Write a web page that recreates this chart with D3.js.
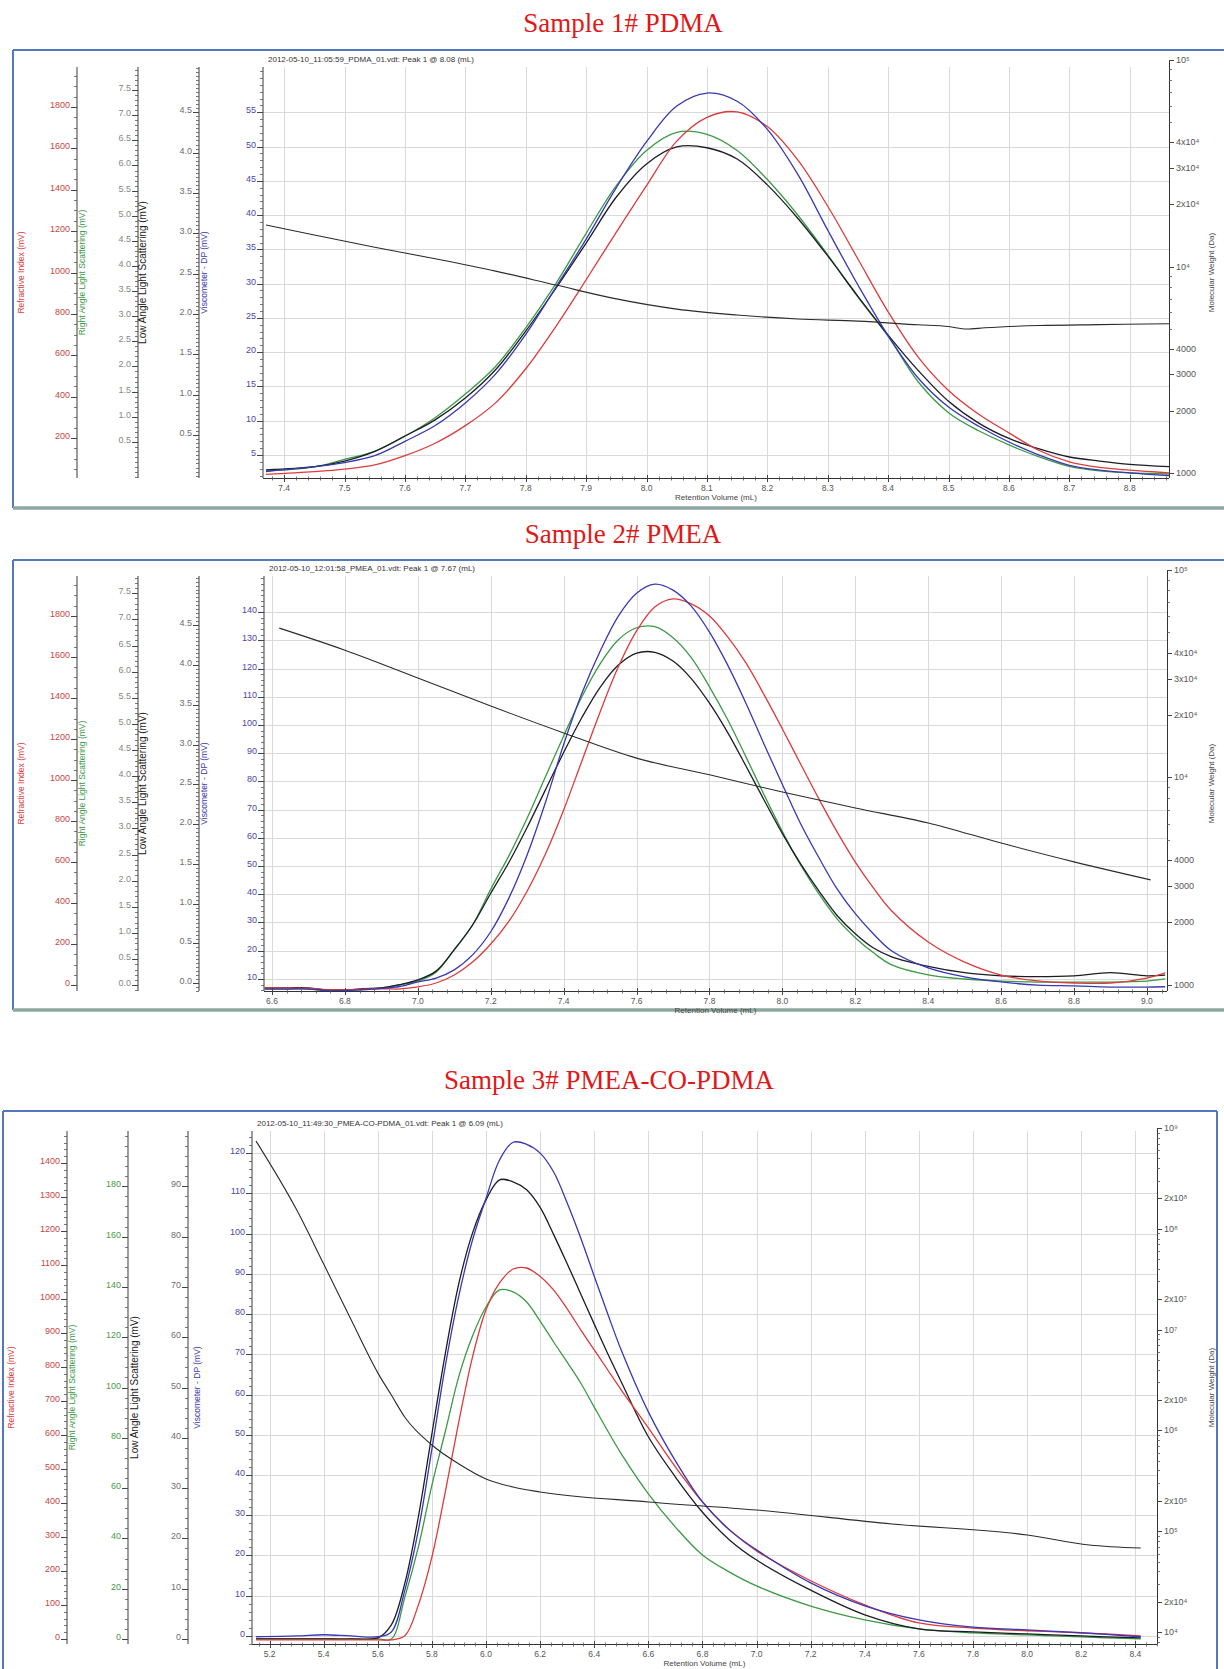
<!DOCTYPE html>
<html>
<head>
<meta charset="utf-8">
<script src="https://cdn.jsdelivr.net/npm/d3@7"></script>
<style>
  body { margin: 0; background: #fff; }
  svg { display: block; }
  text { font-family: "Liberation Sans", Arial, sans-serif; }
</style>
</head>
<body>
<svg id="chart" width="1224" height="1669"></svg>
<script>
// ---------------- data ----------------
const sampleTitles = ["Sample 1#  PDMA", "Sample 2#  PMEA", "Sample 3#  PMEA-CO-PDMA"];
const runHeaders = [
  "2012-05-10_11:05:59_PDMA_01.vdt: Peak 1 @ 8.08 (mL)",
  "2012-05-10_12:01:58_PMEA_01.vdt: Peak 1 @ 7.67 (mL)",
  "2012-05-10_11:49:30_PMEA-CO-PDMA_01.vdt: Peak 1 @ 6.09 (mL)"
];
const detectorNames = ["Refractive Index (mV)", "Right Angle Light Scattering (mV)",
                       "Low Angle Light Scattering (mV)", "Viscometer - DP (mV)"];

// Sample 1 (PDMA): retention volume (mL) and detector signals
const vol1 = [7.37, 7.45, 7.50, 7.55, 7.60, 7.65, 7.70, 7.75, 7.80, 7.85, 7.90, 7.95, 8.00, 8.05, 8.10,
              8.15, 8.20, 8.25, 8.30, 8.35, 8.40, 8.45, 8.50, 8.55, 8.60, 8.65, 8.70, 8.75, 8.80, 8.865];
const ri1   = [25, 38, 50, 70, 115, 175, 260, 370, 535, 740, 965, 1195, 1420, 1635, 1750,
               1776, 1705, 1545, 1320, 1065, 810, 590, 430, 315, 225, 140, 85, 58, 45, 32];
const rals1 = [-0.08, 0.0, 0.15, 0.31, 0.61, 0.98, 1.45, 2.0, 2.77, 3.65, 4.65, 5.6, 6.3, 6.66, 6.62,
               6.3, 5.72, 5.02, 4.22, 3.38, 2.60, 1.69, 1.08, 0.72, 0.44, 0.20, 0.01, -0.08, -0.12, -0.14];
const lals1 = [0.07, 0.11, 0.18, 0.30, 0.49, 0.69, 0.96, 1.31, 1.79, 2.32, 2.88, 3.45, 3.86, 4.07, 4.06,
               3.92, 3.60, 3.19, 2.72, 2.22, 1.74, 1.30, 0.92, 0.65, 0.46, 0.33, 0.23, 0.18, 0.14, 0.11];
const dp1   = [2.6, 3.3, 3.9, 4.9, 7.0, 9.3, 12.6, 16.8, 22.6, 29.5, 36.5, 44.0, 50.7, 55.9, 57.8,
               56.6, 52.5, 46.0, 37.8, 29.8, 22.4, 16.2, 12.0, 9.2, 6.9, 5.0, 3.5, 2.8, 2.4, 2.0];
const mwVol1 = [7.37, 7.45, 7.55, 7.65, 7.75, 7.85, 7.95, 8.05, 8.15, 8.25, 8.35, 8.45, 8.50, 8.53, 8.56, 8.65, 8.75, 8.865];
const mw1    = [15900, 14200, 12400, 10900, 9500, 8130, 6970, 6220, 5820, 5570, 5440, 5220, 5120, 4980, 5050, 5180, 5230, 5280];

// Sample 2 (PMEA)
const vol2 = [6.58, 6.65, 6.70, 6.75, 6.80, 6.85, 6.90, 6.95,
              7.00, 7.05, 7.10, 7.15, 7.20, 7.25, 7.30, 7.35, 7.40, 7.45, 7.50, 7.55, 7.60, 7.65, 7.70, 7.75, 7.80, 7.85, 7.90, 7.95,
              8.00, 8.05, 8.10, 8.15, 8.20, 8.25, 8.30, 8.40, 8.50, 8.60, 8.70, 8.80, 8.90, 9.00, 9.05];
const ri2   = [-15, -15, -15, -22, -22, -20, -18, -19,
               -9, 10, 49, 112, 200, 312, 459, 639, 854, 1093, 1332, 1552, 1727, 1844, 1883, 1859, 1800, 1698, 1571, 1415,
               1249, 1078, 908, 747, 600, 473, 361, 210, 112, 49, 20, 10, 10, 34, 59];
const rals2 = [-0.07, -0.07, -0.07, -0.10, -0.10, -0.08, -0.05, 0.005,
               0.08, 0.25, 0.68, 1.15, 1.84, 2.48, 3.20, 3.99, 4.77, 5.52, 6.15, 6.61, 6.84, 6.86, 6.65, 6.27, 5.71, 5.08, 4.37, 3.64,
               2.94, 2.30, 1.75, 1.27, 0.91, 0.62, 0.39, 0.20, 0.12, 0.08, 0.06, 0.06, 0.06, 0.08, 0.12];
const lals2 = [-0.06, -0.06, -0.06, -0.09, -0.09, -0.07, -0.06, -0.02,
               0.04, 0.15, 0.42, 0.73, 1.13, 1.52, 1.96, 2.43, 2.90, 3.34, 3.72, 4.00, 4.15, 4.16, 4.05, 3.83, 3.52, 3.15, 2.73, 2.30,
               1.88, 1.50, 1.16, 0.85, 0.62, 0.44, 0.33, 0.21, 0.13, 0.09, 0.08, 0.09, 0.13, 0.09, 0.10];
const dp2   = [6.4, 6.4, 6.4, 5.9, 5.9, 6.1, 6.6, 7.3,
               8.9, 10.3, 13.2, 18.5, 26.7, 38.7, 54.0, 72.5, 93.1, 111.2, 126.1, 138.6, 146.7, 149.9, 147.8, 142.1, 132.9, 121.2, 107.7, 93.1,
               78.9, 65.0, 53.0, 41.9, 33.1, 25.9, 19.9, 13.9, 10.7, 8.9, 7.8, 7.5, 7.1, 7.1, 7.2];
const mwVol2 = [6.62, 6.80, 7.00, 7.20, 7.40, 7.60, 7.80, 8.00, 8.20, 8.40, 8.60, 8.80, 9.01];
const mw2    = [52500, 41100, 30200, 22100, 16400, 12400, 10300, 8510, 7130, 6040, 4830, 3920, 3210];

// Sample 3 (PMEA-CO-PDMA)
const vol3 = [5.15, 5.30, 5.40, 5.50, 5.60, 5.65, 5.70, 5.75, 5.80, 5.85, 5.90, 5.95, 6.00, 6.05, 6.10,
              6.15, 6.20, 6.25, 6.30, 6.35, 6.40, 6.45, 6.50, 6.60, 6.70, 6.80, 6.90, 7.00, 7.20, 7.40, 7.60, 7.80, 8.00, 8.20, 8.42];
const ri3   = [-3, -3, -3, -3, -3, -3, 9, 100, 241, 435, 641, 829, 968, 1047, 1088,
               1091, 1066, 1026, 971, 909, 850, 791, 732, 621, 506, 403, 321, 259, 171, 100, 47, 32, 24, 18, 9];
const rals3 = [0, 0, 0, 0, 0, 0, 16.7, 36.6, 61.2, 82.7, 104.6, 120.5, 132.0, 138.8, 138.0,
               134.0, 126.4, 118.1, 110.1, 101.8, 92.2, 82.7, 73.6, 57.7, 44.5, 33.4, 26.6, 21.1, 13.1, 7.6, 4.0, 2.4, 1.6, 0.8, 0];
const lals3 = [0, 0, 0, 0, 0.2, 2.8, 11.1, 24.3, 40.8, 56.9, 70.8, 80.7, 87.3, 91.3, 90.9,
               89.3, 85.8, 80.4, 74.6, 68.6, 62.6, 56.7, 51.1, 40.2, 32.2, 25.2, 19.7, 15.7, 9.7, 4.8, 2.0, 1.4, 1.0, 0.6, 0.2];
const dp3   = [-0.2, 0.0, 0.3, 0.0, -0.2, 1.0, 11.4, 26.3, 46.5, 67.3, 84.7, 98.4, 108.8, 118.3, 122.7,
               122.2, 120.0, 115.3, 107.6, 98.9, 89.4, 80.0, 71.0, 55.7, 43.5, 33.3, 26.3, 21.4, 13.2, 7.5, 4.0, 2.2, 1.5, 0.8, -0.2];
const mwVol3 = [5.15, 5.30, 5.40, 5.50, 5.60, 5.65, 5.70, 5.80, 5.90, 6.00, 6.10, 6.20, 6.60, 7.00, 7.50, 8.00, 8.23, 8.42];
const mw3    = [7.4e8, 1.54e8, 4.47e7, 1.27e7, 3.72e6, 2.24e6, 1.35e6, 716000, 464000, 330000, 274000, 245000,
                195000, 162000, 118000, 91600, 73000, 68100];

// Tick values
const xTicks1    = [7.4, 7.5, 7.6, 7.7, 7.8, 7.9, 8.0, 8.1, 8.2, 8.3, 8.4, 8.5, 8.6, 8.7, 8.8];
const riTicks1   = [200, 400, 600, 800, 1000, 1200, 1400, 1600, 1800];
const ralsTicks1 = [0.5, 1.0, 1.5, 2.0, 2.5, 3.0, 3.5, 4.0, 4.5, 5.0, 5.5, 6.0, 6.5, 7.0, 7.5];
const lalsTicks1 = [0.5, 1.0, 1.5, 2.0, 2.5, 3.0, 3.5, 4.0, 4.5];
const dpTicks1   = [5, 10, 15, 20, 25, 30, 35, 40, 45, 50, 55];
const mwTicks1   = [100000, 40000, 30000, 20000, 10000, 4000, 3000, 2000, 1000];

const xTicks2    = [6.6, 6.8, 7.0, 7.2, 7.4, 7.6, 7.8, 8.0, 8.2, 8.4, 8.6, 8.8, 9.0];
const riTicks2   = [0, 200, 400, 600, 800, 1000, 1200, 1400, 1600, 1800];
const ralsTicks2 = [0.0, 0.5, 1.0, 1.5, 2.0, 2.5, 3.0, 3.5, 4.0, 4.5, 5.0, 5.5, 6.0, 6.5, 7.0, 7.5];
const lalsTicks2 = [0.0, 0.5, 1.0, 1.5, 2.0, 2.5, 3.0, 3.5, 4.0, 4.5];
const dpTicks2   = [10, 20, 30, 40, 50, 60, 70, 80, 90, 100, 110, 120, 130, 140];
const mwTicks2   = [100000, 40000, 30000, 20000, 10000, 4000, 3000, 2000, 1000];

const xTicks3    = [5.2, 5.4, 5.6, 5.8, 6.0, 6.2, 6.4, 6.6, 6.8, 7.0, 7.2, 7.4, 7.6, 7.8, 8.0, 8.2, 8.4];
const riTicks3   = [0, 100, 200, 300, 400, 500, 600, 700, 800, 900, 1000, 1100, 1200, 1300, 1400];
const ralsTicks3 = [0, 20, 40, 60, 80, 100, 120, 140, 160, 180];
const lalsTicks3 = [0, 10, 20, 30, 40, 50, 60, 70, 80, 90];
const dpTicks3   = [0, 10, 20, 30, 40, 50, 60, 70, 80, 90, 100, 110, 120];
const mwTicks3   = [1e9, 2e8, 1e8, 2e7, 1e7, 2e6, 1e6, 2e5, 1e5, 2e4, 1e4];

// ---------------- layout / style ----------------
const COLORS = { ri: "#dd3b3b", rals: "#3b9a45", lals: "#1c1c26", dp: "#3838b4", mw: "#2b2b2b" };
const LABEL_COLORS = { ri: "#c84646", ralsGray: "#7f8a7f", ralsGreen: "#4a9a4a", lals: "#6e6e6e", dp: "#4848a8" };

const panels = [
  {
    title: sampleTitles[0], titleX: 623, titleY: 32, header: runHeaders[0],
    border: { x0: 13, y0: 50, x1: 1240, y1: 508, right: false },
    plot: { x0: 263, x1: 1169, y0: 67, y1: 478 },
    axisX: { ri: 77, rals: 138, lals: 199 },
    nameX: { ri: 22, rals: 83, lals: 143, dp: 205 },
    dom: { x: [7.365, 8.865], ri: [7, 1993], rals: [-0.22, 7.96], lals: [-0.03, 5.06], dp: [1.65, 61.6], mw: [946, 92500] },
    ticks: { x: xTicks1, ri: riTicks1, rals: ralsTicks1, lals: lalsTicks1, dp: dpTicks1, mw: mwTicks1 },
    minor: { x: 0.02, ri: 50, rals: 0.1, lals: 0.05, dp: 1 },
    fmt: { x: ".1f", ri: "d", rals: ".1f", lals: ".1f", dp: "d" },
    ralsLabel: LABEL_COLORS.ralsGray,
    series: { vol: vol1, ri: ri1, rals: rals1, lals: lals1, dp: dp1, mwVol: mwVol1, mw: mw1 }
  },
  {
    title: sampleTitles[1], titleX: 623, titleY: 543, header: runHeaders[1],
    border: { x0: 13, y0: 560, x1: 1240, y1: 1010, right: false },
    plot: { x0: 264, x1: 1167, y0: 576, y1: 991 },
    axisX: { ri: 77, rals: 138, lals: 199 },
    nameX: { ri: 22, rals: 83, lals: 143, dp: 205 },
    dom: { x: [6.578, 9.055], ri: [-29, 1995], rals: [-0.11, 7.83], lals: [-0.1, 5.12], dp: [5.7, 152.8], mw: [935, 93600] },
    ticks: { x: xTicks2, ri: riTicks2, rals: ralsTicks2, lals: lalsTicks2, dp: dpTicks2, mw: mwTicks2 },
    minor: { x: 0.04, ri: 50, rals: 0.1, lals: 0.05, dp: 2 },
    fmt: { x: ".1f", ri: "d", rals: ".1f", lals: ".1f", dp: "d" },
    ralsLabel: LABEL_COLORS.ralsGray,
    series: { vol: vol2, ri: ri2, rals: rals2, lals: lals2, dp: dp2, mwVol: mwVol2, mw: mw2 }
  },
  {
    title: sampleTitles[2], titleX: 609, titleY: 1089, header: runHeaders[2],
    border: { x0: 3, y0: 1111, x1: 1217, y1: 1700, right: true },
    plot: { x0: 252, x1: 1157, y0: 1131, y1: 1644 },
    axisX: { ri: 67, rals: 128, lals: 188 },
    nameX: { ri: 12, rals: 73, lals: 135, dp: 198 },
    dom: { x: [5.135, 8.48], ri: [-15, 1494], rals: [-2, 202], lals: [-1, 101], dp: [-2, 125.5], mw: [7600, 9.33e8] },
    ticks: { x: xTicks3, ri: riTicks3, rals: ralsTicks3, lals: lalsTicks3, dp: dpTicks3, mw: mwTicks3 },
    minor: { x: 0.04, ri: 20, rals: 4, lals: 2, dp: 2 },
    fmt: { x: ".1f", ri: "d", rals: "d", lals: "d", dp: "d" },
    ralsLabel: LABEL_COLORS.ralsGreen,
    series: { vol: vol3, ri: ri3, rals: rals3, lals: lals3, dp: dp3, mwVol: mwVol3, mw: mw3 }
  }
];

const svg = d3.select("#chart");
const SUP = { "0": "\u2070", "1": "\u00b9", "2": "\u00b2", "3": "\u00b3", "4": "\u2074", "5": "\u2075",
              "6": "\u2076", "7": "\u2077", "8": "\u2078", "9": "\u2079" };

function mwLabel(v) {
  if (v < 10000) return String(v);
  const e = Math.floor(Math.log10(v) + 1e-9);
  const m = Math.round(v / Math.pow(10, e));
  const exp = String(e).split("").map(c => SUP[c]).join("");
  return (m === 1 ? "10" : m + "x10") + exp;
}

function steps(d0, d1, step) {
  const out = [];
  const start = Math.ceil(d0 / step - 1e-9);
  const end = Math.floor(d1 / step + 1e-9);
  for (let k = start; k <= end; k++) out.push(+(k * step).toFixed(6));
  return out;
}

function leftAxis(g, scale, xPos, ticks, minorStep, fmt, labelColor, plot) {
  const a = g.append("g");
  a.append("line").attr("x1", xPos).attr("x2", xPos).attr("y1", plot.y0).attr("y2", plot.y1)
    .attr("stroke", "#3a3a3a").attr("stroke-width", 1);
  const dom = scale.domain();
  a.selectAll(null).data(steps(dom[0], dom[1], minorStep)).join("line")
    .attr("x1", xPos - 3).attr("x2", xPos)
    .attr("y1", d => Math.round(scale(d)) + 0.5).attr("y2", d => Math.round(scale(d)) + 0.5)
    .attr("stroke", "#555").attr("stroke-width", 0.8);
  a.selectAll(null).data(ticks).join("line")
    .attr("x1", xPos - 6).attr("x2", xPos)
    .attr("y1", d => Math.round(scale(d)) + 0.5).attr("y2", d => Math.round(scale(d)) + 0.5)
    .attr("stroke", "#444").attr("stroke-width", 1);
  const f = d3.format(fmt);
  a.selectAll(null).data(ticks).join("text")
    .attr("x", xPos - 7).attr("y", d => scale(d) + 1)
    .attr("text-anchor", "end").attr("font-size", 9).attr("fill", labelColor)
    .text(d => f(d));
}

function axisName(g, x, plot, text, color, size) {
  const cy = (plot.y0 + plot.y1) / 2;
  g.append("text").attr("transform", `translate(${x},${cy}) rotate(-90)`)
    .attr("text-anchor", "middle").attr("dominant-baseline", "middle")
    .attr("font-size", size).attr("fill", color).text(text);
}

const smooth = d3.curveCatmullRom.alpha(0.5);

panels.forEach((p, idx) => {
  const g = svg.append("g");
  const P = p.plot;

  // panel frame
  const b = p.border;
  g.append("line").attr("x1", b.x0).attr("x2", b.x0).attr("y1", b.y0).attr("y2", b.y1)
    .attr("stroke", "#5577c2").attr("stroke-width", 2);
  g.append("line").attr("x1", b.x0).attr("x2", b.x1).attr("y1", b.y0).attr("y2", b.y0)
    .attr("stroke", "#5577c2").attr("stroke-width", 2);
  if (b.right) {
    g.append("line").attr("x1", b.x1).attr("x2", b.x1).attr("y1", b.y0).attr("y2", b.y1)
      .attr("stroke", "#5577c2").attr("stroke-width", 2);
  }
  if (b.y1 < 1669) {
    g.append("line").attr("x1", b.x0).attr("x2", b.x1).attr("y1", b.y1).attr("y2", b.y1)
      .attr("stroke", "#8ea89f").attr("stroke-width", 3.5);
  }

  // sample title
  svg.append("text").attr("x", p.titleX).attr("y", p.titleY).attr("text-anchor", "middle")
    .style("font-family", "'Liberation Serif', 'Times New Roman', serif")
    .attr("font-size", 27).attr("fill", "#e01818").text(p.title);

  // scales
  const x = d3.scaleLinear().domain(p.dom.x).range([P.x0, P.x1]);
  const yRI = d3.scaleLinear().domain(p.dom.ri).range([P.y1, P.y0]);
  const yRALS = d3.scaleLinear().domain(p.dom.rals).range([P.y1, P.y0]);
  const yLALS = d3.scaleLinear().domain(p.dom.lals).range([P.y1, P.y0]);
  const yDP = d3.scaleLinear().domain(p.dom.dp).range([P.y1, P.y0]);
  const yMW = d3.scaleLog().domain(p.dom.mw).range([P.y1, P.y0]);

  // grid
  const grid = g.append("g").attr("stroke", "#d9d9d9").attr("stroke-width", 1);
  grid.selectAll(null).data(p.ticks.x).join("line")
    .attr("x1", d => Math.round(x(d)) + 0.5).attr("x2", d => Math.round(x(d)) + 0.5)
    .attr("y1", P.y0).attr("y2", P.y1);
  grid.selectAll(null).data(p.ticks.dp).join("line")
    .attr("x1", P.x0).attr("x2", P.x1)
    .attr("y1", d => Math.round(yDP(d)) + 0.5).attr("y2", d => Math.round(yDP(d)) + 0.5);

  // run header
  g.append("text").attr("x", P.x0 + 5).attr("y", P.y0 - 5).attr("font-size", 8)
    .attr("fill", "#333").text(p.header);

  // curves
  const clipId = "clip" + idx;
  svg.append("defs").append("clipPath").attr("id", clipId)
    .append("rect").attr("x", P.x0).attr("y", P.y0 - 12).attr("width", P.x1 - P.x0).attr("height", P.y1 - P.y0 + 12);
  const cg = g.append("g").attr("clip-path", `url(#${clipId})`);
  const s = p.series;
  const trace = (vals, yScale, color, w) => {
    const pts = s.vol.map((v, i) => [v, vals[i]]);
    cg.append("path").datum(pts)
      .attr("d", d3.line().x(d => x(d[0])).y(d => yScale(d[1])).curve(smooth))
      .attr("fill", "none").attr("stroke", color).attr("stroke-width", w);
  };
  trace(s.rals, yRALS, COLORS.rals, 1.3);
  trace(s.lals, yLALS, COLORS.lals, 1.3);
  trace(s.ri, yRI, COLORS.ri, 1.3);
  trace(s.dp, yDP, COLORS.dp, 1.3);
  const mwPts = s.mwVol.map((v, i) => [v, s.mw[i]]);
  cg.append("path").datum(mwPts)
    .attr("d", d3.line().x(d => x(d[0])).y(d => yMW(d[1])).curve(d3.curveMonotoneX))
    .attr("fill", "none").attr("stroke", COLORS.mw).attr("stroke-width", 1.1);

  // left detector axes
  leftAxis(g, yRI, p.axisX.ri, p.ticks.ri, p.minor.ri, p.fmt.ri, LABEL_COLORS.ri, P);
  leftAxis(g, yRALS, p.axisX.rals, p.ticks.rals, p.minor.rals, p.fmt.rals, p.ralsLabel, P);
  leftAxis(g, yLALS, p.axisX.lals, p.ticks.lals, p.minor.lals, p.fmt.lals, LABEL_COLORS.lals, P);
  leftAxis(g, yDP, P.x0, p.ticks.dp, p.minor.dp, p.fmt.dp, LABEL_COLORS.dp, P);

  axisName(g, p.nameX.ri, P, detectorNames[0], COLORS.ri, 8.5);
  axisName(g, p.nameX.rals, P, detectorNames[1], COLORS.rals, 8.5);
  axisName(g, p.nameX.lals, P, detectorNames[2], "#222", 10);
  axisName(g, p.nameX.dp, P, detectorNames[3], COLORS.dp, 8.5);

  // bottom axis
  const xa = g.append("g");
  xa.append("line").attr("x1", P.x0).attr("x2", P.x1).attr("y1", P.y1 + 0.5).attr("y2", P.y1 + 0.5)
    .attr("stroke", "#333").attr("stroke-width", 1);
  xa.selectAll(null).data(steps(p.dom.x[0], p.dom.x[1], p.minor.x)).join("line")
    .attr("x1", d => Math.round(x(d)) + 0.5).attr("x2", d => Math.round(x(d)) + 0.5)
    .attr("y1", P.y1 - 1.5).attr("y2", P.y1 + 2.5).attr("stroke", "#555").attr("stroke-width", 0.8);
  xa.selectAll(null).data(p.ticks.x).join("line")
    .attr("x1", d => Math.round(x(d)) + 0.5).attr("x2", d => Math.round(x(d)) + 0.5)
    .attr("y1", P.y1 - 3).attr("y2", P.y1 + 4).attr("stroke", "#444").attr("stroke-width", 1);
  const fx = d3.format(p.fmt.x);
  xa.selectAll(null).data(p.ticks.x).join("text")
    .attr("x", d => x(d)).attr("y", P.y1 + 13).attr("text-anchor", "middle")
    .attr("font-size", 8.5).attr("fill", "#555").text(d => fx(d));
  xa.append("text").attr("x", (P.x0 + P.x1) / 2).attr("y", P.y1 + 22).attr("text-anchor", "middle")
    .attr("font-size", 8).attr("fill", "#444").text("Retention Volume (mL)");

  // right molecular weight axis (log)
  const ra = g.append("g");
  const mwTop = Math.min(P.y0, yMW(d3.max(p.ticks.mw)));
  ra.append("line").attr("x1", P.x1 + 0.5).attr("x2", P.x1 + 0.5).attr("y1", mwTop).attr("y2", P.y1)
    .attr("stroke", "#333").attr("stroke-width", 1);
  const lo = Math.floor(Math.log10(p.dom.mw[0])), hi = Math.ceil(Math.log10(d3.max(p.ticks.mw)));
  const mwMinor = [];
  for (let e = lo; e <= hi; e++) for (let k = 1; k <= 9; k++) {
    const v = k * Math.pow(10, e);
    if (v >= p.dom.mw[0] && v <= d3.max(p.ticks.mw) * 1.0001) mwMinor.push(v);
  }
  ra.selectAll(null).data(mwMinor).join("line")
    .attr("x1", P.x1).attr("x2", P.x1 + 3)
    .attr("y1", d => Math.round(yMW(d)) + 0.5).attr("y2", d => Math.round(yMW(d)) + 0.5)
    .attr("stroke", "#555").attr("stroke-width", 0.8);
  ra.selectAll(null).data(p.ticks.mw).join("line")
    .attr("x1", P.x1).attr("x2", P.x1 + 5)
    .attr("y1", d => Math.round(yMW(d)) + 0.5).attr("y2", d => Math.round(yMW(d)) + 0.5)
    .attr("stroke", "#444").attr("stroke-width", 1);
  ra.selectAll(null).data(p.ticks.mw).join("text")
    .attr("x", P.x1 + 7).attr("y", d => yMW(d) + 3)
    .attr("font-size", 9).attr("fill", "#555").text(d => mwLabel(d));
  axisName(g, 1212, P, "Molecular Weight (Da)", "#444", 8);
});
</script>
</body>
</html>
